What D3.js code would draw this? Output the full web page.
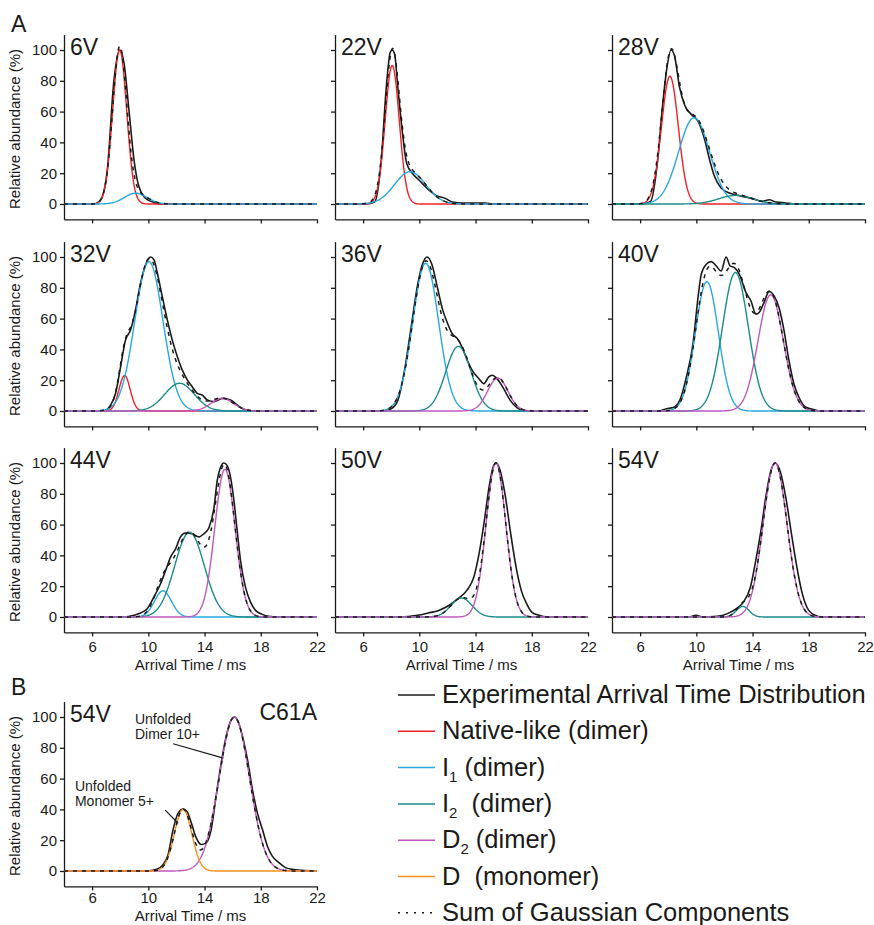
<!DOCTYPE html>
<html>
<head>
<meta charset="utf-8">
<script src="https://cdn.jsdelivr.net/npm/d3@7"></script>
<style>
    body { margin: 0; background: #fff; }
    svg text { font-family: "Liberation Sans", Arial, sans-serif; fill: #1a1a1a; }
</style>
</head>
<body>
<svg id="chart" width="874" height="925"></svg>
<script>
/* tick values */
var xTicks = [6, 10, 14, 18, 22];
var yTicks = [0, 20, 40, 60, 80, 100];

/* panel A, one entry per voltage */
var voltages = ['6V', '22V', '28V', '32V', '36V', '40V', '44V', '50V', '54V'];

/* gaussian components per panel: [centre ms, height %, sigma ms], null when absent */
var nativeLike = [[7.96, 100, 0.5], [8.07, 90, 0.5], [8.12, 83, 0.6], [8.31, 23, 0.4], null, null, null, null, null];
var i1Dimer = [[9.1, 7, 0.8], [9.34, 21, 1.1], [9.84, 56, 1.1], [10.04, 97, 1.0], [10.45, 96, 0.92], [10.75, 84, 0.82], [11.04, 17, 0.6], null, null];
var i2Dimer = [null, null, [12.8, 5.6, 1.2], [12.22, 18, 1.05], [12.78, 42, 0.9], [12.78, 90, 0.92], [12.93, 55, 1.05], [13.0, 12.3, 0.75], [13.3, 6.9, 0.45]];
var d2Dimer = [null, null, null, [15.26, 8.2, 0.8], [15.58, 21.4, 0.72], [15.29, 75.4, 0.9], [15.45, 96, 0.72], [15.45, 100, 0.7], [15.6, 100, 0.85]];

/* experimental arrival time distributions: [ms, %] */
var atd6V = [[4, 0], [6.13, 0], [6.61, 2.8], [7.08, 22], [7.55, 80], [7.96, 100], [8.27, 91.4], [8.62, 61.1], [8.98, 28.7], [9.33, 11.4], [9.92, 2.8], [10.64, 0.6], [10.87, 0], [22, 0]];
var atd22V = [[4, 0], [6.24, 0], [6.82, 1.3], [7.29, 28.3], [7.65, 75.8], [7.93, 98.5], [8.07, 100], [8.24, 97.4], [8.47, 75.8], [8.78, 47.7], [9.11, 26.1], [9.53, 19.7], [10.0, 15.3], [10.71, 8.9], [11.18, 5.6], [11.88, 3.5], [12.35, 1.3], [13.06, 0.6], [14.7, 0.6], [15.18, 0], [22, 0]];
var atd28V = [[4, 0], [6.1, 0], [6.75, 1.7], [7.22, 26], [7.58, 62], [7.9, 88], [8.2, 100], [8.45, 96.1], [8.8, 76], [9.18, 64], [9.65, 58.1], [10.12, 53.8], [10.59, 41.9], [10.94, 28.9], [11.29, 18.0], [11.76, 10.4], [12.35, 7.2], [13.06, 5.4], [14.0, 3.5], [14.71, 1.7], [15.18, 2.8], [15.65, 1.3], [16.35, 0.7], [17.06, 0], [22, 0]];
var atd32V = [[4, 0], [6.84, 0], [7.32, 3.9], [7.67, 11.5], [8.03, 28.9], [8.38, 46.2], [8.74, 52.7], [9.09, 65.7], [9.45, 83.1], [9.81, 95.0], [10.16, 100], [10.4, 98.3], [10.64, 89.6], [10.99, 74.4], [11.35, 59.2], [11.7, 46.2], [12.06, 35.4], [12.41, 26.7], [12.77, 20.2], [13.12, 15.8], [13.48, 11.5], [13.83, 10.4], [14.19, 7.2], [14.66, 6.1], [15.26, 8.2], [15.85, 7.2], [16.32, 3.9], [16.8, 1.1], [17.5, 0], [22, 0]];
var atd36V = [[4, 0], [7.41, 0], [8.0, 1.5], [8.47, 6.9], [8.94, 26], [9.41, 54], [9.88, 82], [10.24, 95.7], [10.55, 100], [10.9, 95], [11.29, 80], [11.65, 66], [12.0, 57], [12.35, 50], [12.71, 47], [13.06, 41], [13.41, 32.9], [13.76, 26.4], [14.24, 21.0], [14.59, 17.7], [14.94, 22.1], [15.18, 23.2], [15.53, 21.0], [16.0, 14.5], [16.47, 6.9], [16.94, 2.2], [17.41, 0.4], [18.0, 0], [22, 0]];
var atd40V = [[4, 0], [7.29, 0], [7.88, 1.5], [8.35, 2.2], [8.82, 6.9], [9.29, 22.0], [9.76, 43.5], [10.12, 73.7], [10.35, 88.8], [10.71, 95.3], [11.06, 97.0], [11.41, 94.2], [11.76, 90.9], [12.12, 100], [12.4, 94.2], [12.71, 93.1], [13.06, 88.8], [13.53, 76.9], [13.88, 71.6], [14.24, 62.9], [14.47, 64.0], [14.82, 70.5], [15.18, 77.6], [15.53, 74.8], [15.88, 67.2], [16.24, 52.2], [16.59, 32.8], [16.94, 17.7], [17.29, 9.1], [17.76, 2.6], [18.35, 0.9], [18.82, 0], [22, 0]];
var atd44V = [[4, 0], [8.27, 0], [8.98, 1.1], [9.45, 2.6], [9.92, 5.4], [10.4, 13.0], [10.87, 21.6], [11.23, 30.2], [11.58, 38.9], [11.94, 44.3], [12.29, 52], [12.65, 54.5], [13.12, 54], [13.6, 52], [13.95, 54], [14.31, 58], [14.66, 70.2], [14.9, 88.6], [15.14, 97.2], [15.37, 100], [15.61, 98.3], [15.85, 90.7], [16.09, 75.6], [16.32, 56.2], [16.56, 36.7], [16.91, 19.4], [17.27, 9.7], [17.63, 4.3], [18.1, 1.7], [18.57, 0.4], [19.17, 0], [22, 0]];
var atd50V = [[4, 0], [8.63, 0], [9.88, 1.1], [10.63, 2.6], [11.38, 4.3], [12.13, 7.6], [12.75, 11.9], [13.38, 17.3], [13.88, 26.0], [14.25, 41.1], [14.63, 62.8], [15.0, 86.6], [15.25, 97.4], [15.45, 100], [15.75, 95.2], [16.13, 77.9], [16.5, 54.1], [16.88, 32.5], [17.25, 17.3], [17.63, 8.7], [18.0, 3.2], [18.5, 1.1], [19.13, 0], [22, 0]];
var atd54V = [[4, 0], [9.46, 0], [9.96, 1.1], [10.47, 0], [11.47, 0.4], [12.22, 2.2], [12.85, 5.4], [13.35, 9.7], [13.85, 19.5], [14.23, 36.8], [14.6, 56.3], [14.98, 80.1], [15.28, 94.2], [15.6, 100], [15.98, 94.2], [16.36, 77.9], [16.73, 56.3], [17.11, 34.6], [17.48, 17.3], [17.86, 6.5], [18.36, 1.5], [18.99, 0], [22, 0]];
var atdPanelA = [atd6V, atd22V, atd28V, atd32V, atd36V, atd40V, atd44V, atd50V, atd54V];

/* panel B, C61A at 54V */
var dMonomerB = [12.47, 40, 0.62];
var d2DimerB = [16.12, 100, 1.08];
var atdC61A = [[4, 0], [9.88, 0], [10.59, 1.1], [11.06, 4.3], [11.41, 10.8], [11.76, 26.9], [12.12, 37.6], [12.47, 40.2], [12.75, 38.7], [13.06, 31.2], [13.41, 21.5], [13.76, 17.2], [14.12, 18.3], [14.47, 26.9], [14.82, 48.4], [15.18, 69.9], [15.53, 87.1], [15.88, 97.8], [16.12, 100], [16.35, 97.8], [16.71, 87.1], [17.06, 72.0], [17.41, 52.7], [17.76, 37.6], [18.12, 26.9], [18.47, 16.1], [18.82, 9.7], [19.29, 5.4], [19.76, 2.2], [20.24, 1.1], [20.94, 0.4], [22, 0]];

/* legend */
var legendNames = ['Experimental Arrival Time Distribution', 'Native-like (dimer)', 'I', 'I', 'D', 'D', 'Sum of Gaussian Components'];
var legendSubs = ['', '', '1', '2', '2', '', ''];
var legendTails = ['', '', ' (dimer)', '  (dimer)', ' (dimer)', '  (monomer)', ''];

var colors = {
    atd: '#1a1a1a',
    native: '#ec2227',
    i1: '#27a8e0',
    i2: '#1b8c88',
    d2: '#bf59bd',
    mono: '#f5901f'
};
var legendColors = [colors.atd, colors.native, colors.i1, colors.i2, colors.d2, colors.mono, '#1a1a1a'];

var svg = d3.select('#chart');

var colLeft = [64, 335, 612];
var rowTop = [50, 257, 463];
var plotWidth = 253;
var plotHeight = 154;

function gauss(p, t) {
    var z = (t - p[0]) / p[2];
    return p[1] * Math.exp(-0.5 * z * z);
}

function drawPanel(opts) {
    var g = svg.append('g').attr('class', 'panel');

    var x = d3.scaleLinear().domain([4, 22]).range([opts.left, opts.left + plotWidth]);
    var y = d3.scaleLinear().domain([-10, 110])
        .range([opts.top + plotHeight * 1.1, opts.top - plotHeight * 0.1]);

    var xAxis = d3.axisBottom(x).tickValues(xTicks).tickSize(4).tickSizeOuter(0).tickPadding(opts.tickGap)
        .tickFormat(opts.xLabels ? d3.format('d') : '');
    var yAxis = d3.axisLeft(y).tickValues(yTicks).tickSize(4).tickSizeOuter(0).tickPadding(3)
        .tickFormat(opts.yLabels ? d3.format('d') : '');

    var gx = g.append('g')
        .attr('transform', 'translate(0,' + y(-10) + ')')
        .call(xAxis);
    var gy = g.append('g')
        .attr('transform', 'translate(' + x(4) + ',0)')
        .call(yAxis);

    [gx, gy].forEach(function (ax) {
        ax.selectAll('path, line').attr('stroke', '#1a1a1a').attr('stroke-width', 1.3);
        ax.selectAll('text').attr('font-size', 15).attr('fill', '#1a1a1a')
            .attr('font-family', '"Liberation Sans", Arial, sans-serif');
    });

    if (opts.yLabels) {
        g.append('text')
            .attr('transform', 'translate(20,' + (y(50) + 2) + ') rotate(-90)')
            .attr('text-anchor', 'middle')
            .attr('font-size', 15)
            .text('Relative abundance (%)');
    }
    if (opts.xLabels) {
        g.append('text')
            .attr('x', x(13))
            .attr('y', y(-10) + opts.titleGap)
            .attr('text-anchor', 'middle')
            .attr('font-size', 15)
            .text('Arrival Time / ms');
    }

    g.append('text')
        .attr('x', x(4) + 6)
        .attr('y', y(100) + 5)
        .attr('font-size', 23)
        .text(opts.label);

    var line = d3.line()
        .x(function (d) { return x(d[0]); })
        .y(function (d) { return y(d[1]); })
        .curve(d3.curveMonotoneX);

    /* experimental trace */
    g.append('path')
        .datum(opts.atd)
        .attr('d', line)
        .attr('fill', 'none')
        .attr('stroke', colors.atd)
        .attr('stroke-width', 1.6);

    /* gaussian components */
    var grid = d3.range(4, 22.0001, 0.05);
    var sumLine = d3.line()
        .x(function (d) { return x(d); })
        .y(function (d) {
            return y(d3.sum(opts.comps, function (c) { return gauss(c.p, d); }));
        });

    opts.comps.forEach(function (c) {
        g.append('path')
            .datum(grid)
            .attr('d', d3.line()
                .x(function (d) { return x(d); })
                .y(function (d) { return y(gauss(c.p, d)); }))
            .attr('fill', 'none')
            .attr('stroke', c.color)
            .attr('stroke-width', 1.4);
    });

    g.append('path')
        .datum(grid)
        .attr('d', sumLine)
        .attr('fill', 'none')
        .attr('stroke', '#1a1a1a')
        .attr('stroke-width', 1.5)
        .attr('stroke-dasharray', '4,5');

    return { x: x, y: y, g: g };
}

voltages.forEach(function (v, i) {
    var comps = [];
    if (nativeLike[i]) { comps.push({ p: nativeLike[i], color: colors.native }); }
    if (i1Dimer[i]) { comps.push({ p: i1Dimer[i], color: colors.i1 }); }
    if (i2Dimer[i]) { comps.push({ p: i2Dimer[i], color: colors.i2 }); }
    if (d2Dimer[i]) { comps.push({ p: d2Dimer[i], color: colors.d2 }); }
    drawPanel({
        left: colLeft[i % 3],
        top: rowTop[Math.floor(i / 3)],
        label: v,
        atd: atdPanelA[i],
        comps: comps,
        yLabels: i % 3 === 0,
        xLabels: i >= 6,
        tickGap: 5,
        titleGap: 38
    });
});

var panelB = drawPanel({
    left: colLeft[0],
    top: 717,
    label: '54V',
    atd: atdC61A,
    comps: [{ p: d2DimerB, color: colors.d2 }, { p: dMonomerB, color: colors.mono }],
    yLabels: true,
    xLabels: true,
    tickGap: 2,
    titleGap: 35
});

panelB.g.append('text')
    .attr('x', panelB.x(22))
    .attr('y', panelB.y(100) + 3)
    .attr('text-anchor', 'end')
    .attr('font-size', 23)
    .text('C61A');

/* annotations in panel B */
[['Unfolded', 9.05, 95.3], ['Dimer 10+', 9.05, 85.5], ['Unfolded', 4.78, 51.8], ['Monomer 5+', 4.78, 42]]
    .forEach(function (a) {
        panelB.g.append('text')
            .attr('x', panelB.x(a[1]))
            .attr('y', panelB.y(a[2]))
            .attr('font-size', 14)
            .text(a[0]);
    });
[[11.76, 82.6, 15.34, 73.3], [11.2, 39.5, 12.12, 31]].forEach(function (l) {
    panelB.g.append('line')
        .attr('x1', panelB.x(l[0])).attr('y1', panelB.y(l[1]))
        .attr('x2', panelB.x(l[2])).attr('y2', panelB.y(l[3]))
        .attr('stroke', '#1a1a1a')
        .attr('stroke-width', 1.2);
});

/* panel letters */
svg.append('text').attr('x', 11).attr('y', 32).attr('font-size', 23).text('A');
svg.append('text').attr('x', 11).attr('y', 695).attr('font-size', 23).text('B');

/* legend */
var legend = svg.append('g').attr('class', 'legend');
legendNames.forEach(function (name, i) {
    var baseY = 703 + i * 36.3;
    legend.append('line')
        .attr('x1', 398).attr('x2', 435)
        .attr('y1', baseY - 8).attr('y2', baseY - 8)
        .attr('stroke', legendColors[i])
        .attr('stroke-width', i === 6 ? 1.6 : 1.5)
        .attr('stroke-dasharray', i === 6 ? '2,6' : null);
    var t = legend.append('text')
        .attr('x', 442)
        .attr('y', baseY)
        .attr('font-size', 25.5)
        .attr('xml:space', 'preserve');
    t.append('tspan').text(name);
    if (legendSubs[i]) {
        t.append('tspan').attr('font-size', 15).attr('dy', 6).text(legendSubs[i]);
        t.append('tspan').attr('dy', -6).text(legendTails[i]);
    } else if (legendTails[i]) {
        t.append('tspan').text(legendTails[i]);
    }
});
</script>
</body>
</html>
